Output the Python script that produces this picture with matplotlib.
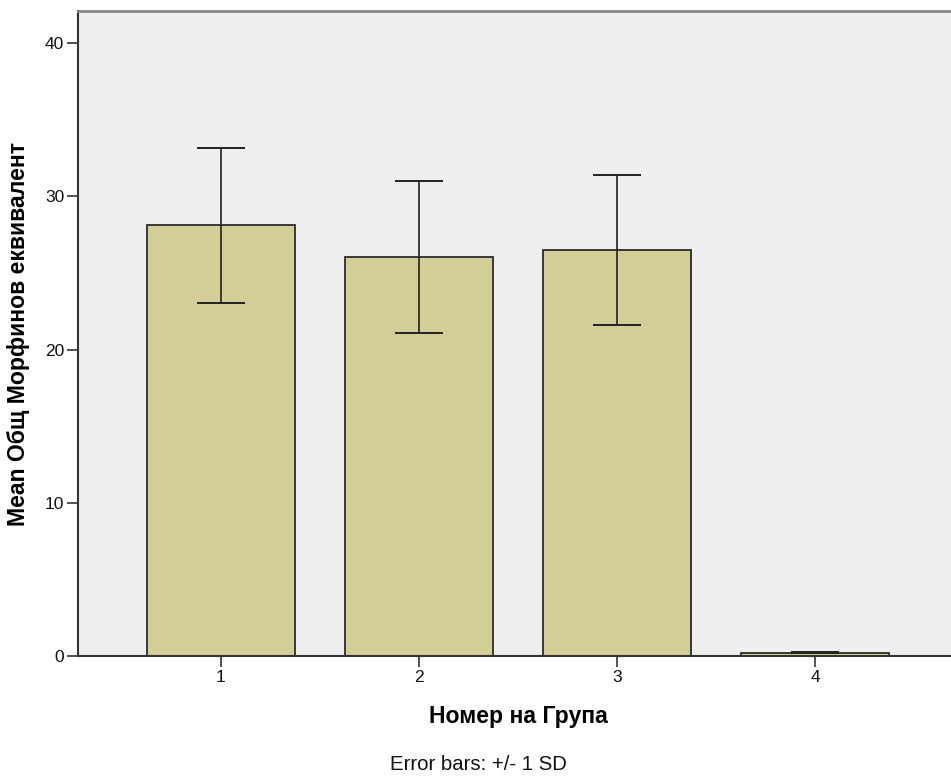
import matplotlib
matplotlib.use("Agg")
import matplotlib.pyplot as plt

groups = ["1", "2", "3", "4"]
means = [28.1, 26.05, 26.5, 0.2]
sds = [5.03, 4.98, 4.88, 0.03]
yticks = [0, 10, 20, 30, 40]

plt.rcParams['font.family'] = ['Liberation Sans', 'DejaVu Sans']

fig = plt.figure(figsize=(9.51, 7.78), dpi=100)
W, H = 951, 778
left_px, right_px, top_px, bottom_px = 78, 958, 11, 656
ax = fig.add_axes([left_px / W, 1 - bottom_px / H, (right_px - left_px) / W, (bottom_px - top_px) / H])
ax.set_facecolor('#EFEFEF')

x = list(range(1, len(groups) + 1))
ax.bar(x, means, width=0.747, color='#D3CE97', edgecolor='#2b2b2b', linewidth=1.3, zorder=2)
ax.errorbar(x, means, yerr=sds, fmt='none', ecolor='#222222', elinewidth=1.2,
            capsize=17.3, capthick=1.4, zorder=3)

ax.set_xlim(0.278, 4.722)
ax.set_ylim(0, 42.1)
ax.set_yticks(yticks)
ax.set_xticks(x)
ax.set_xticklabels(groups)
ax.tick_params(axis='both', direction='out', length=8, width=1.2, color='#333333',
               labelsize=12.5, labelcolor='#111111', pad=2)

for s in ['left', 'bottom']:
    ax.spines[s].set_color('#333333')
    ax.spines[s].set_linewidth(1.5)
ax.spines['top'].set_color('#888888')
ax.spines['top'].set_linewidth(2)
ax.spines['right'].set_visible(False)

ax.set_ylabel('Mean Общ Морфинов еквивалент', fontsize=16.6, fontweight='bold')
ax.yaxis.set_label_coords(-(78 - 19) / 880, 0.5)
ax.set_xlabel('Номер на Група', fontsize=16.6, fontweight='bold')
ax.xaxis.set_label_coords((518 - 78) / 880, -(717 - 656) / 645)
ax.xaxis.label.set_va('center')
ax.yaxis.label.set_va('center')
fig.text(478 / W, 1 - 764 / H, 'Error bars: +/- 1 SD', fontsize=14.7, ha='center', va='center', color='#111111')

fig.savefig('out.png', dpi=100)
